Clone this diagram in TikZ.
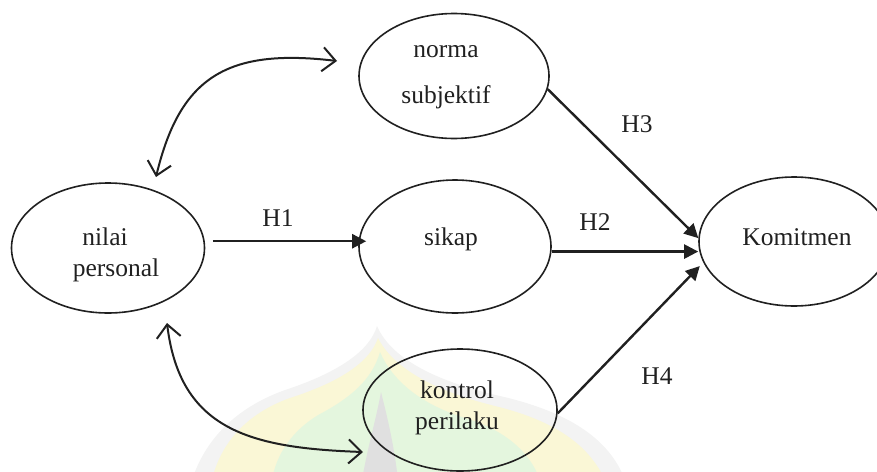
\documentclass[tikz,border=0pt]{standalone}
\usepackage{fontspec}
\setmainfont{Liberation Serif}
\usetikzlibrary{shapes.geometric,arrows.meta}
\definecolor{ink}{HTML}{202020}
\definecolor{wmgray}{HTML}{F3F3F3}
\definecolor{wmyellow}{HTML}{FAF7D6}
\definecolor{wmgreen}{HTML}{E4F6DE}
\definecolor{wmdark}{HTML}{E0E0E0}
\begin{document}
\begin{tikzpicture}[x=1pt,y=-1pt,
  txt/.style={font=\fontsize{25.5}{30}\selectfont, text=ink, anchor=base, inner sep=0pt},
  oval/.style={ellipse, draw=ink, line width=1.6pt, inner sep=0pt},
  solidarrow/.style={draw=ink, line width=2.4pt, -{Triangle[length=14pt,width=14pt]}},
  linkarrow/.style={draw=ink, line width=2pt,
    {Straight Barb[length=13pt,width=24pt]}-{Straight Barb[length=13pt,width=24pt]}}]
\useasboundingbox (0,0) rectangle (877,471);

% faint dome emblem in the background
\begin{scope}
  \clip (0,0) rectangle (877,471);
  \fill[wmgray] (377,326) .. controls (370,350) and (340,372) .. (285,390)
     .. controls (235,408) and (205,440) .. (192,480) -- (625,480)
     .. controls (610,440) and (570,412) .. (500,396)
     .. controls (430,380) and (390,356) .. cycle;
  \fill[wmyellow] (378,338) .. controls (370,362) and (340,382) .. (290,398)
     .. controls (245,414) and (220,445) .. (212,480) -- (605,480)
     .. controls (590,448) and (560,422) .. (495,406)
     .. controls (430,390) and (392,366) .. cycle;
  \fill[wmgreen] (380,352) .. controls (372,380) and (350,398) .. (320,414)
     .. controls (292,430) and (276,455) .. (272,480) -- (540,480)
     .. controls (530,452) and (505,430) .. (465,418)
     .. controls (420,404) and (392,380) .. cycle;
  \fill[wmdark] (381,392) .. controls (376,420) and (368,445) .. (362,480)
     -- (398,480) .. controls (394,445) and (388,420) .. cycle;
\end{scope}

% constructs
\node[oval, minimum width=193pt, minimum height=130pt] (nilai) at (108,248) {};
\node[oval, minimum width=190pt, minimum height=125pt] (norma) at (454,76) {};
\node[oval, minimum width=192pt, minimum height=133pt] (sikap) at (455,246.5) {};
\node[oval, minimum width=194pt, minimum height=122pt] (kontrol) at (460,410) {};
\node[oval, minimum width=190pt, minimum height=129pt] (komit) at (794,241.5) {};

% construct names
\node[txt] (nilaiA) at (105,245) {nilai};
\node[txt] (nilaiB) at (116,276) {personal};
\node[txt] (normaA) at (446,57) {norma};
\node[txt] (normaB) at (446,103) {subjektif};
\node[txt] (sikapT) at (451,245) {sikap};
\node[txt] (kontrolA) at (457,398) {kontrol};
\node[txt] (kontrolB) at (457,429) {perilaku};
\node[txt] (komitT) at (797,245) {Komitmen};

% hypothesis labels
\node[txt] (h1) at (278,226) {H1};
\node[txt] (h2) at (595,230) {H2};
\node[txt] (h3) at (637,132) {H3};
\node[txt] (h4) at (657,384) {H4};

% hypothesised paths
\draw[solidarrow] ([xshift=8pt]nilai.4) -- ([xshift=8pt]nilai.4 -| sikap.west);
\draw[solidarrow] (sikap.-3) -- (sikap.-3 -| komit.west);
\draw[solidarrow] (norma.-8) -- (komit.178);
\draw[solidarrow, shorten >=5pt] (kontrol.-2) -- (komit.193);

% correlations between the exogenous constructs
\coordinate (t1) at ([shift={(48,-71)}]nilai.center);
\coordinate (t2) at ([shift={(-117,-15)}]norma.center);
\coordinate (b1) at ([shift={(59,75)}]nilai.center);
\coordinate (b2) at ([shift={(-97,42)}]kontrol.center);
\draw[linkarrow] (t1) .. controls +(24,-100) and +(-110,-13) .. (t2);
\draw[linkarrow] (b1) .. controls +(13,107) and +(-113,-4) .. (b2);
\end{tikzpicture}
\end{document}
